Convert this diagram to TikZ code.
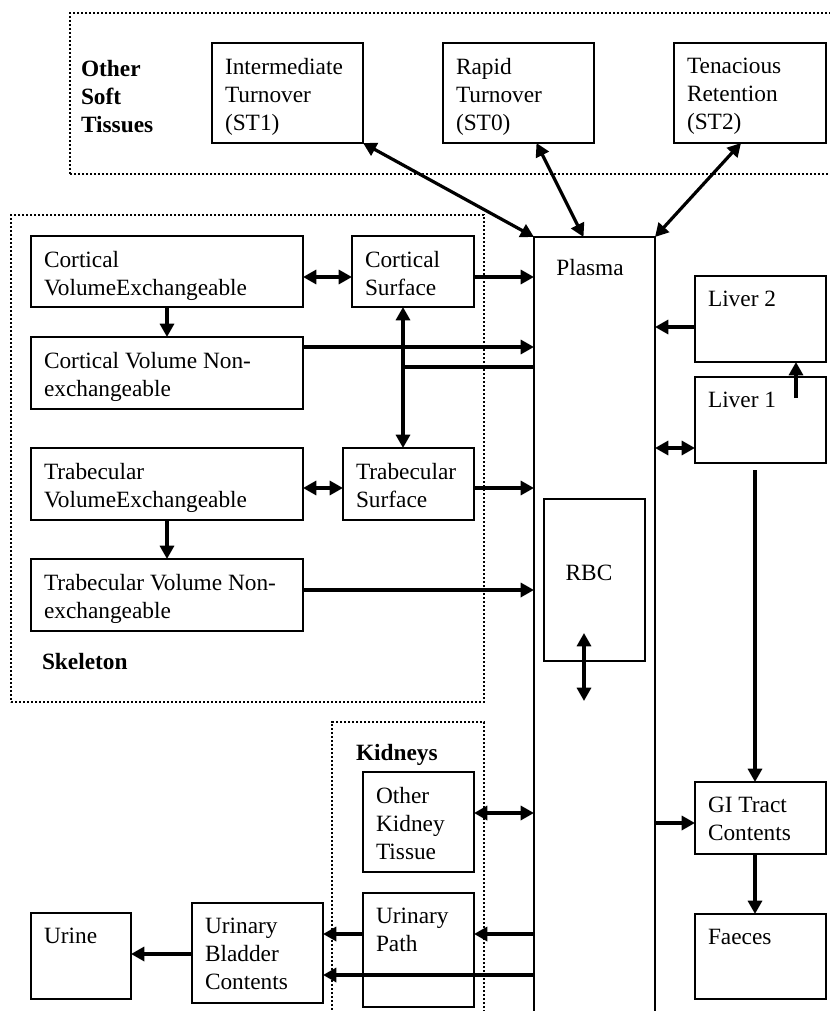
\documentclass[tikz,border=0pt]{standalone}
\usepackage{fontspec}
\setmainfont{Liberation Serif}
\usetikzlibrary{arrows.meta,calc}
\tikzset{
  box/.style={draw, line width=1.75pt, inner sep=0pt, outer sep=0pt, anchor=north west},
  txt/.style={inner sep=0pt, outer sep=0pt, anchor=north west, align=left, font=\fontsize{17.5pt}{21pt}\selectfont},
  lbl/.style={txt, font=\fontsize{17.5pt}{21pt}\selectfont\bfseries},
  group/.style={draw, line width=1.7pt, dash pattern=on 1.7pt off 1.3pt, inner sep=0pt, outer sep=0pt, anchor=north west},
  arr/.style={line width=2.4pt, -{Triangle[length=10pt,width=10.5pt]}},
  darr/.style={line width=2.4pt, {Triangle[length=10pt,width=10.5pt]}-{Triangle[length=10pt,width=10.5pt]}},
  plainline/.style={line width=2.4pt},
}
\newcommand\compbox[6]{%
  \node[box, minimum width={(#4-#2)*0.75pt}, minimum height={(#5-#3)*0.75pt}] (#1) at (#2,#3) {};
  \node[txt] (#1t) at ($(#1.north west)+(13,15)$) {#6};}
\begin{document}
\begin{tikzpicture}[x=0.75pt,y=-0.75pt]
\useasboundingbox (0,0) rectangle (830,1011);
% groups
\node[group, minimum width={780*0.75pt}, minimum height={161*0.75pt}] (soft) at (70,13) {};
\node[group, minimum width={473*0.75pt}, minimum height={487*0.75pt}] (skel) at (11,215) {};
\node[group, minimum width={152*0.75pt}, minimum height={330*0.75pt}] (kid) at (332,722) {};
\node[lbl] (softl) at (81,60) {Other\\Soft\\Tissues};
\node[lbl, anchor=base west] (skell) at (42,669) {Skeleton};
\node[lbl, anchor=base west] (kidl) at (356,760) {Kidneys};
% boxes
\compbox{it}{212}{43}{363}{143}{Intermediate\\Turnover\\(ST1)}
\compbox{rt}{443}{43}{594}{143}{Rapid\\Turnover\\(ST0)}
\compbox{tr}{674}{43}{826}{143}{Tenacious\\Retention\\(ST2)}
\compbox{cve}{31}{236}{303}{307}{Cortical\\VolumeExchangeable}
\compbox{cs}{352}{236}{474}{307}{Cortical\\Surface}
\compbox{cvn}{31}{337}{303}{409}{Cortical Volume Non-\\exchangeable}
\compbox{tve}{31}{448}{303}{520}{Trabecular\\VolumeExchangeable}
\compbox{ts}{343}{448}{474}{520}{Trabecular\\Surface}
\compbox{tvn}{31}{559}{303}{631}{Trabecular Volume Non-\\exchangeable}
\compbox{liv2}{695}{276}{826}{362}{Liver 2}
\compbox{liv1}{695}{377}{826}{463}{Liver 1}
\compbox{okt}{363}{772}{474}{872}{Other\\Kidney\\Tissue}
\compbox{gi}{695}{782}{826}{854}{GI Tract\\Contents}
\compbox{fae}{695}{914}{826}{999}{Faeces}
\compbox{up}{363}{893}{474}{1007}{Urinary\\Path}
\compbox{ubc}{192}{903}{323}{1003}{Urinary\\Bladder\\Contents}
\compbox{urine}{31}{913}{131}{999}{Urine}
\node[box, minimum width={121*0.75pt}, minimum height={803*0.75pt}] (plasma) at (534,237) {};
\node[txt, anchor=base] (plasmat) at (590,275) {Plasma};
\node[box, minimum width={101*0.75pt}, minimum height={162*0.75pt}] (rbc) at (544,499) {};
\node[txt, anchor=base] (rbct) at (589,580) {RBC};
% connectors
\draw[darr] (it.south east) -- (plasma.north west);
\draw[darr] ($(rt.south)+(18,0)$) -- ($(plasma.north)+(-11,0)$);
\draw[darr] ($(tr.south)+(-9,0)$) -- (plasma.north east);
\draw[darr] (cve.east |- 0,277) -- (cs.west |- 0,277);
\draw[arr] (cs.east |- 0,277) -- (plasma.west |- 0,277);
\draw[arr] (cve.south) -- (cvn.north);
\draw[arr] (cvn.east |- 0,347) -- (plasma.west |- 0,347);
\coordinate (j1) at (403,367);
\draw[plainline] (plasma.west |- j1) -- (j1);
\draw[darr] (cs.south -| j1) -- (ts.north -| j1);
\draw[darr] (tve.east |- 0,488) -- (ts.west |- 0,488);
\draw[arr] (ts.east |- 0,488) -- (plasma.west |- 0,488);
\draw[arr] (tve.south) -- (tvn.north);
\draw[arr] (tvn.east |- 0,590) -- (plasma.west |- 0,590);
\draw[arr] (liv2.west |- 0,327) -- (plasma.east |- 0,327);
\coordinate (l1s) at (796,398);
\draw[arr] (l1s) -- (liv2.south -| l1s);
\draw[darr] (plasma.east |- 0,448) -- (liv1.west |- 0,448);
\coordinate (l1b) at (755,470);
\draw[arr] (l1b) -- (gi.north -| l1b);
\draw[arr] (plasma.east |- 0,823) -- (gi.west |- 0,823);
\draw[arr] (gi.south -| l1b) -- (fae.north -| l1b);
\coordinate (r1) at (584,633);
\coordinate (r2) at (584,701);
\draw[darr] (r1) -- (r2);
\draw[darr] (okt.east |- 0,813) -- (plasma.west |- 0,813);
\draw[arr] (plasma.west |- 0,934) -- (up.east |- 0,934);
\draw[arr] (up.west |- 0,934) -- (ubc.east |- 0,934);
\draw[arr] (plasma.west |- 0,975) -- (ubc.east |- 0,975);
\draw[arr] (ubc.west |- 0,954) -- (urine.east |- 0,954);
\end{tikzpicture}
\end{document}
